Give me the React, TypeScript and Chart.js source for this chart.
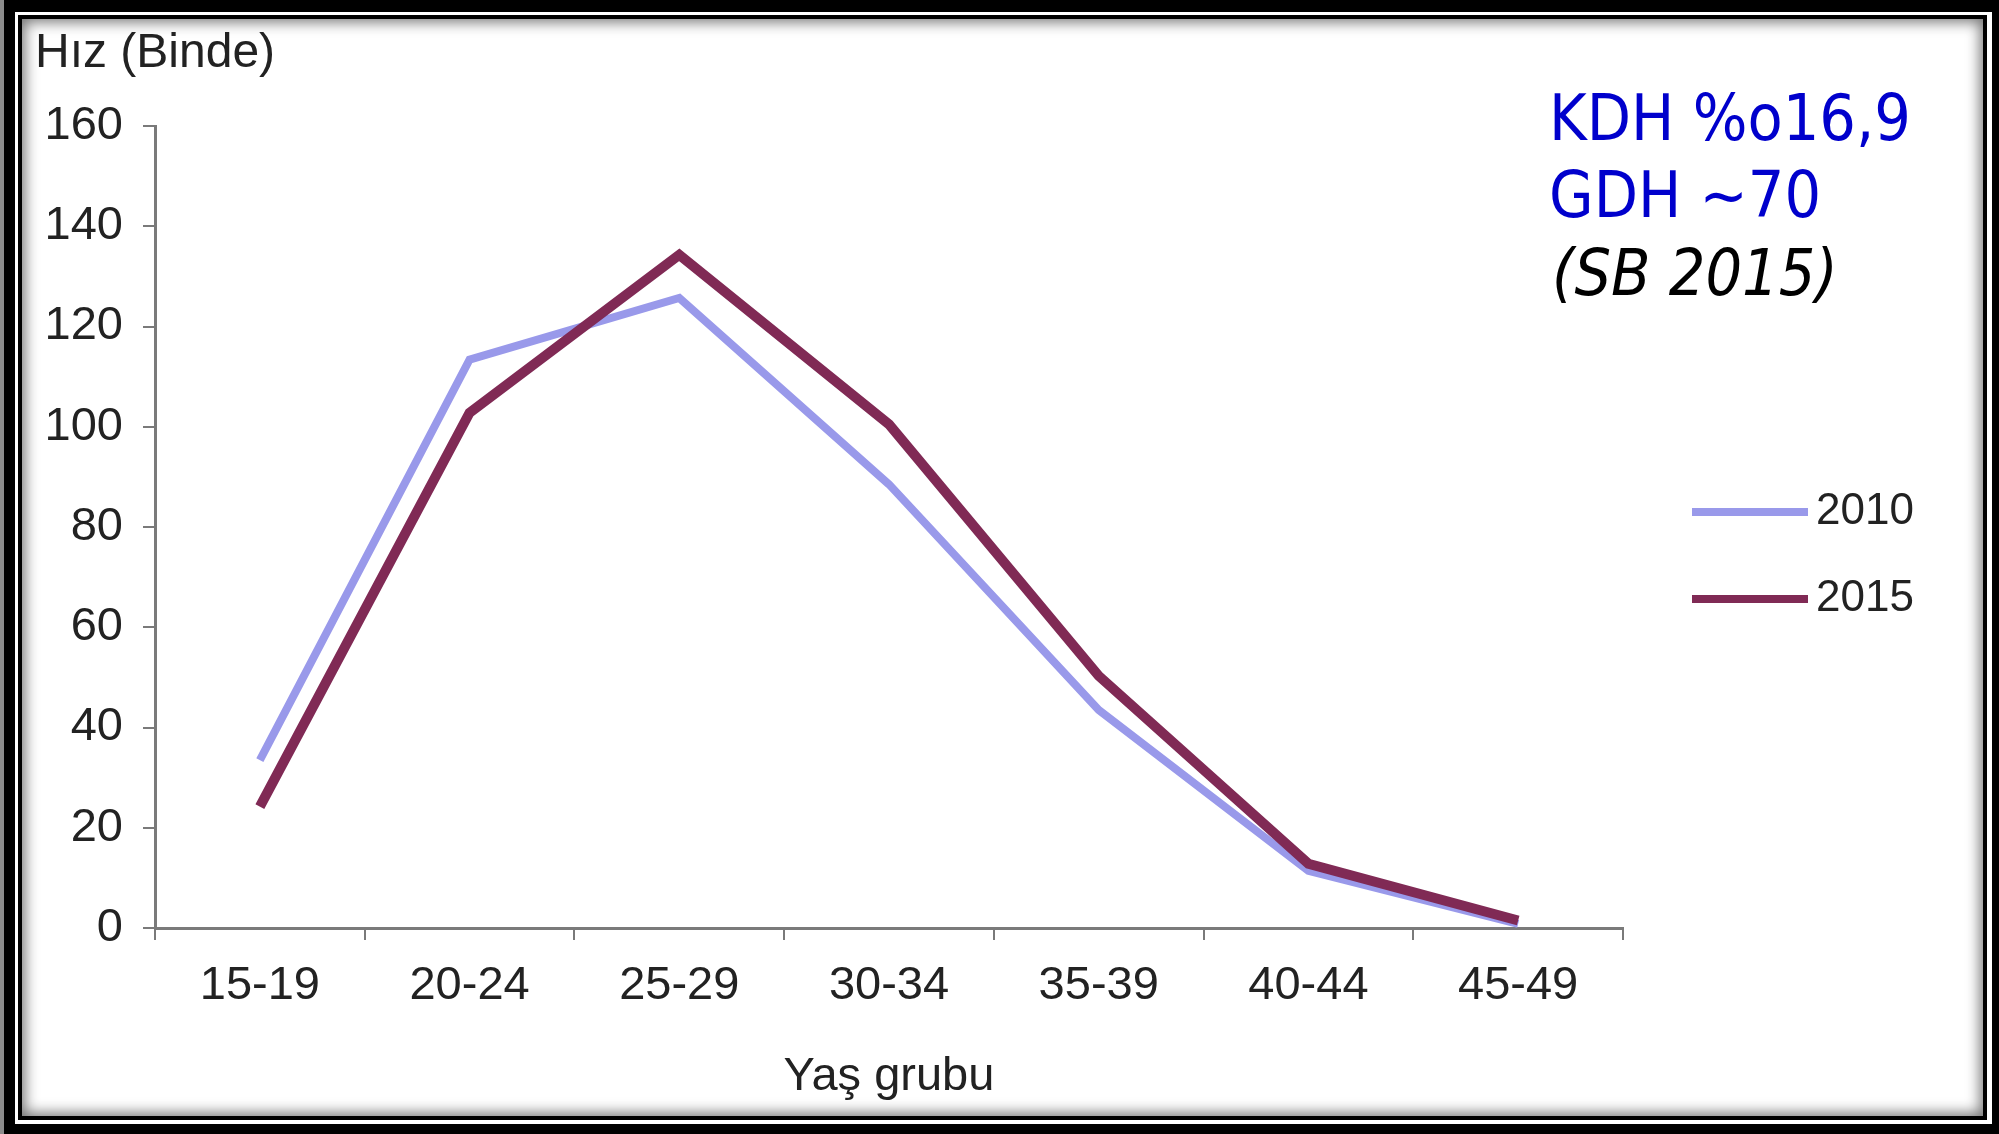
import React, { useEffect, useRef } from 'react';
import { Chart, registerables } from 'chart.js';

Chart.register(...registerables);

const categories = ['15-19', '20-24', '25-29', '30-34', '35-39', '40-44', '45-49'];
const seriesNames = ['2010', '2015'];
const values2010 = [33.5, 113.4, 125.7, 88.5, 43.5, 11.4, 0.8];
const values2015 = [24.2, 102.8, 134.3, 100.5, 50.3, 12.8, 1.5];
const yMin = 0;
const yMax = 160;
const yStep = 20;
const yTitle = 'Hız (Binde)';
const xTitle = 'Yaş grubu';
const noteLines = ['KDH %o16,9', 'GDH ~70', '(SB 2015)'];

const sideLegend = {
  id: 'sideLegend',
  afterDraw(chart: any, _args: any, opts: any) {
    const ctx = chart.ctx;
    chart.data.datasets.forEach((ds: any, i: number) => {
      const y = opts.y0 + i * opts.gap;
      ctx.save();
      ctx.strokeStyle = ds.borderColor;
      ctx.lineWidth = opts.lineWidth;
      ctx.lineCap = 'butt';
      ctx.beginPath();
      ctx.moveTo(opts.x0, y);
      ctx.lineTo(opts.x1, y);
      ctx.stroke();
      ctx.fillStyle = opts.color;
      ctx.font = opts.font;
      ctx.textAlign = 'left';
      ctx.textBaseline = 'middle';
      ctx.fillText(ds.label, opts.textX, y);
      ctx.restore();
    });
  },
};

export default function App() {
  const canvasRef = useRef<HTMLCanvasElement | null>(null);

  useEffect(() => {
    document.body.style.margin = '0';
    document.body.style.overflow = 'hidden';
    const canvas = canvasRef.current;
    if (!canvas) return;
    const axisColor = '#7a7a7a';
    const textColor = '#222222';
    const font = 'Liberation Sans, Arial, sans-serif';
    const chart = new Chart(canvas, {
      type: 'line',
      data: {
        labels: categories,
        datasets: [
          {
            label: seriesNames[0],
            data: values2010,
            borderColor: '#9999ea',
            borderWidth: 8,
            pointRadius: 0,
            tension: 0,
            fill: false,
            borderJoinStyle: 'miter',
            order: 2,
          },
          {
            label: seriesNames[1],
            data: values2015,
            borderColor: '#802a55',
            borderWidth: 10,
            pointRadius: 0,
            tension: 0,
            fill: false,
            borderJoinStyle: 'miter',
            order: 1,
          },
        ],
      },
      options: {
        responsive: false,
        animation: false,
        events: [],
        layout: { padding: { left: 0, top: 126, right: 376, bottom: 0 } },
        plugins: {
          legend: { display: false },
          tooltip: { enabled: false },
          sideLegend: {
            x0: 1692,
            x1: 1808,
            textX: 1816,
            y0: 512,
            gap: 87,
            lineWidth: 8,
            color: textColor,
            font: `44px ${font}`,
          },
        } as any,
        scales: {
          x: {
            type: 'category',
            offset: true,
            afterFit: (s: any) => {
              s.height = 206;
            },
            grid: {
              offset: true,
              drawOnChartArea: false,
              drawTicks: true,
              tickLength: 12,
              color: axisColor,
              lineWidth: 2,
            },
            border: { color: axisColor, width: 3 },
            ticks: {
              color: textColor,
              font: { family: font, size: 47 },
              padding: 18,
              maxRotation: 0,
              autoSkip: false,
            },
            title: {
              display: true,
              text: xTitle,
              color: textColor,
              font: { family: font, size: 47 },
              padding: { top: 0, bottom: 29 },
            },
          },
          y: {
            min: yMin,
            max: yMax,
            afterFit: (s: any) => {
              s.width = 155;
            },
            grid: {
              drawOnChartArea: false,
              drawTicks: true,
              tickLength: 12,
              color: axisColor,
              lineWidth: 2,
            },
            border: { color: axisColor, width: 3 },
            ticks: {
              stepSize: yStep,
              color: textColor,
              font: { family: font, size: 47 },
              padding: 20,
            },
          },
        },
      },
      plugins: [sideLegend],
    });
    return () => chart.destroy();
  }, []);

  const noteFont = "'DejaVu Sans Condensed', 'DejaVu Sans', sans-serif";

  return (
    <div style={{ position: 'relative', width: 1999, height: 1134, background: '#000', overflow: 'hidden' }}>
      <div style={{ position: 'absolute', left: 0, top: 0, width: 4, height: 1134, background: '#8c8c8c' }} />
      <div style={{ position: 'absolute', left: 15, top: 12, width: 1977, height: 1112, background: '#fff' }} />
      <div
        style={{
          position: 'absolute',
          left: 18,
          top: 15,
          width: 1969,
          height: 1105,
          boxSizing: 'border-box',
          border: '4px solid #000',
          background: '#fff',
          boxShadow: 'inset 0 0 14px 3px rgba(0,0,0,0.55)',
        }}
      />
      <canvas
        ref={canvasRef}
        width={1999}
        height={1134}
        style={{ position: 'absolute', left: 0, top: 0, width: 1999, height: 1134 }}
      />
      <div
        style={{
          position: 'absolute',
          left: 35,
          top: 27,
          fontFamily: 'Liberation Sans, Arial, sans-serif',
          fontSize: 48,
          lineHeight: '48px',
          color: '#222222',
          whiteSpace: 'nowrap',
        }}
      >
        {yTitle}
      </div>
      <div
        style={{
          position: 'absolute',
          left: 1549,
          top: 86,
          fontFamily: noteFont,
          fontSize: 64,
          lineHeight: '64px',
          color: '#0000cc',
          whiteSpace: 'nowrap',
        }}
      >
        {noteLines[0]}
      </div>
      <div
        style={{
          position: 'absolute',
          left: 1549,
          top: 163,
          fontFamily: noteFont,
          fontSize: 64,
          lineHeight: '64px',
          color: '#0000cc',
          whiteSpace: 'nowrap',
        }}
      >
        {noteLines[1]}
      </div>
      <div
        style={{
          position: 'absolute',
          left: 1552,
          top: 241,
          fontFamily: noteFont,
          fontSize: 64,
          fontStyle: 'italic',
          lineHeight: '64px',
          color: '#000',
          whiteSpace: 'nowrap',
        }}
      >
        {noteLines[2]}
      </div>
    </div>
  );
}
